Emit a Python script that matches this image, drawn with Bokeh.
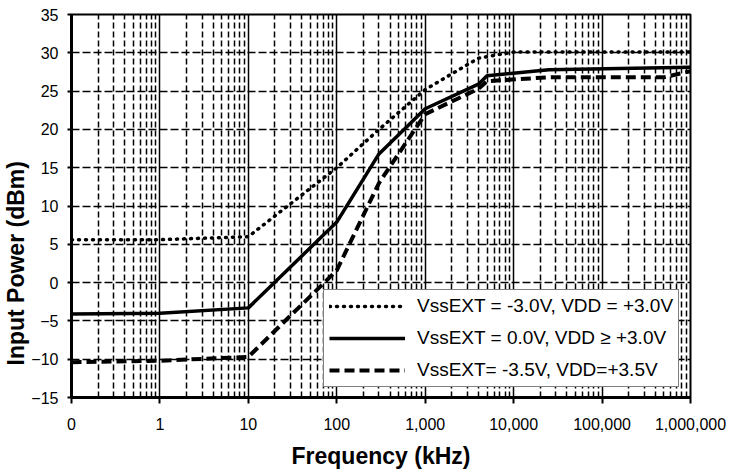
from bokeh.plotting import figure
from bokeh.models import (Range1d, FixedTicker, Legend, LegendItem, Title)
from bokeh.embed import file_html
from bokeh.resources import INLINE

# ---- data ----
x_ticks = [0.1, 1, 10, 100, 1000, 10000, 100000, 1000000]
x_tick_labels = ["0", "1", "10", "100", "1,000", "10,000", "100,000", "1,000,000"]
y_ticks = [-15, -10, -5, 0, 5, 10, 15, 20, 25, 30, 35]

freq_a = [0.1, 1, 10, 100, 300, 1000, 4000, 10000, 1000000]
pwr_a = [5.6, 5.6, 6.0, 15.0, 20.0, 25.2, 29.3, 30.1, 30.1]
label_a = "VssEXT = -3.0V, VDD = +3.0V"

freq_b = [0.1, 1, 10, 100, 300, 1000, 4000, 5000, 25000, 1000000]
pwr_b = [-4.1, -4.0, -3.3, 7.9, 16.8, 22.7, 25.9, 27.0, 27.8, 28.1]
label_b = "VssEXT = 0.0V, VDD \u2265 +3.0V"

freq_c = [0.1, 1, 10, 100, 300, 1000, 4000, 5000, 25000, 500000, 1000000]
pwr_c = [-10.4, -10.2, -9.7, 1.6, 13.0, 22.0, 25.3, 26.3, 26.8, 26.8, 27.6]
label_c = "VssEXT= -3.5V, VDD=+3.5V"

x_title = "Frequency (kHz)"
y_title = "Input Power (dBm)"

minor_x = [m * d for d in [0.1, 1, 10, 100, 1000, 10000, 100000] for m in range(2, 10)]

FONT = "Liberation Sans"

p = figure(width=734, height=476, x_axis_type="log",
           x_range=Range1d(0.1, 1000000), y_range=Range1d(-15, 35),
           output_backend="svg", toolbar_location=None,
           min_border_left=71, min_border_right=44,
           min_border_top=14, min_border_bottom=79)
p.background_fill_color = "white"
p.border_fill_color = "white"
p.outline_line_color = "black"
p.outline_line_width = 2

# axes
p.xaxis.ticker = FixedTicker(ticks=x_ticks, minor_ticks=minor_x)
p.xaxis.major_label_overrides = {t: l for t, l in zip(x_ticks, x_tick_labels)}
p.yaxis.ticker = FixedTicker(ticks=y_ticks)

for ax in (p.xaxis[0], p.yaxis[0]):
    ax.axis_line_width = 3
    ax.axis_line_color = "black"
    ax.major_tick_line_color = "black"
    ax.major_tick_line_width = 2
    ax.major_label_text_font = FONT
    ax.major_label_text_font_size = "16px"
    ax.major_label_text_color = "black"
    ax.axis_label_text_font = FONT
    ax.axis_label_text_font_size = "23px"
    ax.axis_label_text_font_style = "bold"
    ax.axis_label_text_color = "black"

p.xaxis.major_tick_out = 6
p.xaxis.major_tick_in = 0
p.xaxis.minor_tick_in = 4
p.xaxis.minor_tick_out = 0
p.xaxis.minor_tick_line_color = "black"
p.xaxis.major_label_standoff = 14
p.xaxis.axis_label = x_title
p.xaxis.axis_label_standoff = 10

p.yaxis.major_tick_out = 4
p.yaxis.major_tick_in = 0
p.yaxis.minor_tick_line_color = None
p.yaxis.major_label_standoff = 9

# y title, sitting lower than the frame centre as in the original
ytitle = Title(text=y_title, align="left", offset=32,
               text_font=FONT, text_font_size="23px", text_font_style="bold",
               text_color="black", standoff=0)
p.add_layout(ytitle, "left")

# grids
p.xgrid.grid_line_color = "black"
p.xgrid.grid_line_width = 1.5
p.xgrid.minor_grid_line_color = "black"
p.xgrid.minor_grid_line_width = 1.5
p.xgrid.minor_grid_line_dash = "6 3"
p.ygrid.grid_line_color = "black"
p.ygrid.grid_line_width = 1.5
p.ygrid.grid_line_dash = "8 3"

# series
ra = p.line(freq_a, pwr_a, line_color="black", line_width=3.5,
            line_dash="1 6", line_cap="round", line_join="round")
rb = p.line(freq_b, pwr_b, line_color="black", line_width=3.5, line_join="round")
rc = p.line(freq_c, pwr_c, line_color="black", line_width=4,
            line_dash="10 5", line_join="round")

legend = Legend(items=[LegendItem(label=label_a, renderers=[ra]),
                       LegendItem(label=label_b, renderers=[rb]),
                       LegendItem(label=label_c, renderers=[rc])],
                location=(252, 10))
legend.label_text_font = FONT
legend.label_text_font_size = "19px"
legend.label_text_color = "black"
legend.glyph_width = 76
legend.glyph_height = 20
legend.label_height = 20
legend.label_standoff = 12
legend.spacing = 10
legend.padding = 5
legend.margin = 0
legend.border_line_color = "black"
legend.border_line_width = 1.5
legend.background_fill_color = "white"
legend.background_fill_alpha = 1.0
p.add_layout(legend)

open("out.html", "w").write(file_html(p, INLINE))
